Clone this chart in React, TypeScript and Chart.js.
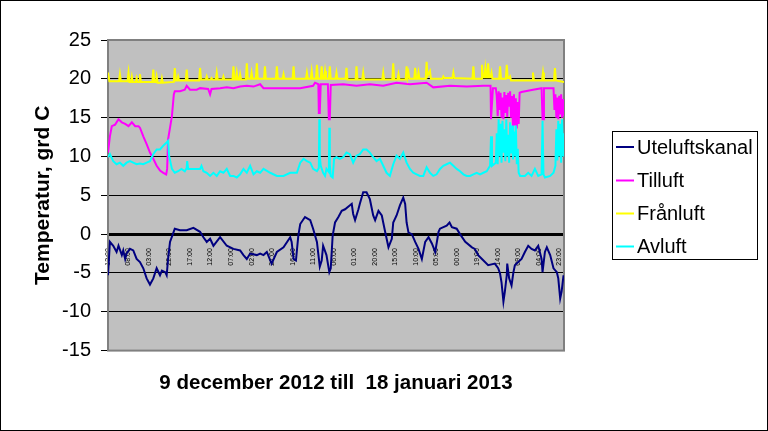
import React, { useEffect, useRef } from 'react';
import { Chart, registerables } from 'chart.js';

Chart.register(...registerables);

const FONT = "'Liberation Sans', Arial, sans-serif";

// x axis: hours since 9 December 2012 00:00
const xTickHours = [13, 56, 99, 142, 185, 228, 271, 314, 357, 400, 443, 486, 529, 572, 615, 658, 701, 744, 787, 830, 873, 916, 959];
const xTickLabels = ['13:00', '08:00', '03:00', '22:00', '17:00', '12:00', '07:00', '02:00', '21:00', '16:00', '11:00', '06:00', '01:00', '20:00', '15:00', '10:00', '05:00', '00:00', '19:00', '14:00', '09:00', '04:00', '23:00'];
const xMin = 13;
const xMax = 969;
const yMin = -15;
const yMax = 25;
const yStep = 5;

const seriesNames = ['Uteluftskanal', 'Tilluft', 'Frånluft', 'Avluft'];
const seriesColors = ['#000080', '#FF00FF', '#FFFF00', '#00FFFF'];

const uteluftskanal = [
  [13, -5.3], [17, -1.0], [24, -1.5], [31, -2.3], [35, -1.5], [42, -2.7], [45, -2.1], [49, -3.2], [52, -2.5], [59, -1.9],
  [66, -2.1], [73, -3.2], [80, -3.6], [87, -4.4], [94, -5.7], [101, -6.5], [108, -5.7], [115, -4.4], [122, -5.3], [126, -4.7],
  [133, -4.9], [136, -5.3], [139, -3.2], [143, -1.0], [149, 0.0], [153, 0.7], [164, 0.5], [178, 0.5], [192, 0.8], [206, 0.3],
  [213, -0.4], [220, -1.0], [227, -0.6], [234, -1.5], [248, -0.4], [262, -1.5], [276, -1.9], [290, -2.1], [297, -2.7], [304, -3.2],
  [311, -2.5], [325, -2.7], [332, -2.5], [339, -2.7], [346, -2.3], [356, -3.8], [367, -2.3], [381, -1.7], [395, -0.4], [398, -1.0],
  [402, -3.2], [407, -3.4], [412, -0.2], [416, 1.3], [426, 2.2], [437, 1.8], [443, 0.7], [451, -1.0], [457, -4.2], [461, -3.4],
  [464, -1.5], [471, -2.7], [477, -4.9], [480, -4.4], [484, -0.2], [489, 1.5], [496, 2.2], [503, 3.0], [510, 3.2], [524, 3.9],
  [527, 2.6], [531, 1.8], [538, 3.2], [541, 3.9], [548, 5.4], [555, 5.4], [562, 4.5], [569, 2.4], [573, 1.8], [580, 3.0],
  [587, 2.4], [590, 1.5], [594, 0.3], [601, -1.7], [608, -0.6], [611, 1.5], [618, 2.4], [625, 3.7], [632, 4.7], [636, 3.9],
  [639, 1.5], [643, 0.2], [650, 0.0], [657, -1.0], [664, -1.9], [671, -3.2], [678, -1.0], [685, -0.4], [692, -1.2], [699, -2.3],
  [706, 0.3], [709, 0.7], [723, 1.1], [729, 1.5], [734, 0.9], [744, 0.7], [751, 0.0], [762, -1.0], [776, -1.7], [782, -1.9],
  [789, -2.7], [797, -3.2], [810, -4.0], [824, -3.8], [831, -4.4], [835, -5.1], [838, -6.2], [842, -8.7], [845, -7.4], [849, -5.3],
  [850, -3.8], [854, -5.7], [859, -6.6], [863, -4.9], [866, -4.0], [873, -3.6], [880, -3.2], [887, -2.3], [894, -1.5], [901, -1.9],
  [908, -2.1], [915, -1.5], [922, -3.2], [924, -4.9], [929, -2.3], [933, -1.7], [940, -2.7], [947, -4.4], [954, -4.9], [957, -5.7],
  [961, -8.3], [964, -7.4], [968, -5.3],
];

const tilluft = [
  [13, 10.5], [17, 12.6], [21, 13.9], [28, 14.1], [35, 14.8], [42, 14.4], [49, 14.2], [56, 13.9], [63, 14.4], [70, 13.9],
  [77, 13.9], [80, 13.7], [87, 12.6], [94, 11.6], [101, 10.5], [108, 9.7], [115, 8.8], [122, 8.2], [129, 7.9], [135, 7.7],
  [137, 8.4], [139, 12.2], [147, 15.2], [151, 18.0], [153, 18.4], [164, 18.4], [174, 18.6], [178, 19.1], [185, 18.6], [199, 18.6],
  [206, 18.8], [223, 18.7], [227, 18.0], [230, 18.7], [248, 18.8], [262, 18.9], [276, 18.8], [290, 19.0], [304, 19.1], [318, 19.0],
  [332, 19.3], [339, 18.8], [381, 18.8], [416, 18.8], [443, 19.1], [447, 19.5], [454, 19.3], [455, 15.6], [457, 15.6], [459, 19.3],
  [474, 19.3], [476, 14.8], [478, 14.8], [480, 19.2], [506, 19.3], [534, 19.1], [562, 19.3], [590, 19.1], [618, 19.5], [646, 19.3],
  [681, 19.5], [695, 18.9], [730, 19.1], [765, 19.0], [800, 19.1], [815, 19.1], [816, 14.8], [818, 14.8], [820, 18.8], [826, 18.8],
  [828, 17.8], [830, 15.2], [832, 18.4], [834, 16.0], [836, 18.2], [838, 15.0], [840, 17.6], [842, 14.8], [844, 18.3], [846, 15.6],
  [848, 17.9], [850, 15.1], [852, 18.2], [854, 16.4], [856, 18.4], [858, 15.0], [860, 17.8], [862, 13.8], [864, 18.0], [866, 14.0],
  [868, 17.5], [870, 13.6], [872, 17.0], [874, 14.2], [876, 18.2], [880, 18.3], [904, 18.6], [922, 18.8], [924, 14.8], [926, 14.8],
  [927, 18.8], [947, 18.8], [949, 16.0], [951, 18.0], [953, 15.0], [955, 17.6], [957, 14.8], [959, 17.8], [961, 15.4], [963, 18.0],
  [965, 15.0], [967, 17.4], [969, 15.2],
];

const franluft = [
  [13, 20.8], [16, 19.7], [36, 19.7], [38, 20.6], [40, 19.7], [54, 19.7], [56, 20.8], [58, 19.6], [61, 19.6], [63, 20.3],
  [65, 19.6], [71, 19.6], [73, 20.1], [75, 19.6], [78, 19.6], [80, 20.6], [82, 19.6], [106, 19.6], [108, 21.2], [110, 19.6],
  [113, 19.6], [115, 20.3], [117, 19.5], [124, 19.5], [126, 20.1], [128, 19.5], [151, 19.6], [153, 21.4], [155, 19.8], [158, 19.8],
  [160, 20.3], [162, 19.8], [176, 19.8], [178, 21.2], [180, 19.8], [204, 19.8], [206, 21.4], [208, 19.9], [218, 19.9], [220, 20.3],
  [222, 19.9], [228, 19.9], [230, 20.1], [232, 19.9], [239, 19.9], [241, 20.8], [243, 19.9], [253, 19.9], [255, 20.3], [257, 19.9],
  [274, 19.9], [276, 21.6], [278, 19.9], [281, 19.9], [283, 20.8], [285, 19.9], [288, 19.9], [290, 20.6], [292, 19.9], [302, 19.9],
  [304, 22.0], [306, 20.0], [312, 20.0], [314, 20.8], [316, 20.0], [323, 20.0], [325, 22.0], [327, 20.0], [340, 20.0], [342, 21.6],
  [344, 20.0], [365, 20.0], [367, 21.6], [369, 20.0], [379, 20.0], [381, 20.6], [383, 20.0], [400, 20.0], [402, 21.6], [404, 20.0],
  [428, 20.0], [430, 20.8], [432, 20.0], [438, 20.0], [440, 21.0], [442, 20.0], [449, 20.0], [451, 21.8], [453, 20.0], [459, 20.0],
  [461, 21.6], [463, 20.0], [466, 20.0], [468, 21.0], [470, 20.0], [476, 20.0], [478, 21.6], [480, 20.0], [490, 20.0], [492, 20.8],
  [494, 20.0], [511, 20.0], [513, 21.4], [515, 19.9], [532, 19.9], [534, 21.6], [536, 19.9], [546, 19.9], [548, 20.8], [550, 19.9],
  [588, 19.9], [590, 20.8], [592, 19.9], [609, 19.9], [611, 22.0], [613, 19.9], [620, 19.9], [622, 20.6], [624, 19.9], [637, 19.9],
  [639, 21.6], [641, 20.2], [643, 20.8], [645, 20.0], [655, 20.0], [657, 21.4], [659, 20.0], [662, 20.0], [664, 20.8], [666, 20.0],
  [679, 20.0], [681, 22.2], [683, 20.4], [688, 21.0], [690, 20.0], [714, 20.0], [716, 20.3], [718, 20.1], [735, 20.1], [737, 20.8],
  [739, 20.1], [777, 20.0], [779, 21.6], [781, 20.0], [795, 20.0], [797, 21.8], [799, 20.2], [802, 20.2], [804, 21.4], [806, 20.2],
  [808, 20.2], [810, 22.0], [812, 20.2], [815, 20.2], [817, 20.8], [819, 20.0], [833, 20.0], [835, 21.6], [837, 20.0], [847, 20.0],
  [849, 21.8], [851, 20.1], [854, 20.1], [856, 20.3], [858, 19.8], [902, 19.8], [904, 20.8], [906, 19.8], [923, 19.8], [925, 20.8],
  [927, 19.8], [948, 19.8], [950, 21.4], [952, 19.8], [969, 19.6],
];

const avluft = [
  [13, 9.9], [17, 10.3], [24, 9.4], [31, 9.0], [38, 9.2], [45, 8.8], [52, 9.2], [59, 9.4], [66, 9.2], [73, 9.0],
  [80, 9.1], [87, 9.0], [94, 9.2], [101, 9.4], [108, 10.3], [115, 10.9], [122, 10.9], [129, 11.4], [136, 11.8], [139, 12.0],
  [141, 10.1], [147, 8.4], [153, 7.9], [160, 8.1], [167, 8.4], [174, 8.1], [178, 8.5], [179, 9.4], [181, 8.4], [192, 8.4],
  [206, 8.4], [209, 8.8], [213, 8.1], [220, 7.9], [227, 7.5], [234, 7.9], [241, 7.5], [248, 8.1], [255, 7.9], [262, 8.4],
  [269, 7.5], [276, 7.5], [283, 7.3], [290, 7.7], [297, 8.4], [304, 7.9], [311, 8.8], [318, 7.7], [325, 8.1], [332, 7.9],
  [339, 8.4], [353, 7.9], [367, 7.5], [381, 7.5], [395, 7.9], [409, 7.9], [416, 9.2], [423, 9.7], [430, 9.4], [437, 9.2],
  [443, 8.4], [451, 8.1], [455, 8.5], [456, 14.8], [457, 10.0], [459, 8.8], [464, 7.9], [468, 7.5], [471, 8.4], [476, 8.0],
  [477, 13.7], [478, 9.0], [480, 7.5], [484, 7.3], [487, 9.7], [492, 9.9], [499, 9.7], [506, 9.9], [513, 10.5], [520, 10.3],
  [527, 9.2], [534, 10.1], [541, 10.3], [548, 10.9], [555, 10.9], [562, 10.5], [569, 9.9], [576, 9.4], [583, 9.7], [590, 8.8],
  [597, 7.9], [604, 7.5], [611, 9.0], [618, 10.1], [625, 9.7], [632, 10.5], [639, 9.2], [646, 8.4], [653, 7.9], [660, 7.7],
  [667, 7.5], [674, 7.5], [681, 8.6], [688, 7.9], [695, 7.5], [702, 7.7], [709, 8.4], [716, 8.8], [723, 9.0], [730, 9.2],
  [737, 8.8], [744, 8.4], [751, 8.1], [758, 7.7], [765, 7.5], [772, 7.5], [779, 7.7], [786, 7.9], [793, 7.7], [800, 7.9],
  [807, 8.1], [814, 8.8], [816, 12.6], [818, 8.8], [826, 9.2], [828, 13.0], [830, 9.0], [832, 14.8], [834, 10.0], [836, 14.2],
  [838, 9.2], [840, 14.6], [842, 10.5], [844, 13.5], [846, 9.4], [848, 14.8], [850, 10.0], [852, 12.8], [854, 9.2], [856, 14.4],
  [858, 10.4], [860, 14.0], [862, 9.6], [864, 13.2], [866, 10.0], [868, 14.0], [870, 9.0], [872, 11.0], [874, 7.9], [877, 7.5],
  [887, 7.5], [894, 7.9], [901, 7.5], [908, 8.4], [915, 7.5], [922, 7.7], [924, 14.6], [926, 7.7], [929, 7.3], [940, 7.5],
  [947, 7.9], [951, 8.8], [953, 13.5], [955, 9.5], [957, 14.6], [959, 10.0], [961, 14.2], [963, 9.2], [965, 14.8], [967, 10.0],
  [969, 13.0],
];

const seriesData = [uteluftskanal, tilluft, franluft, avluft];

const yTitle = 'Temperatur, grd C';
const xTitle = '9 december 2012 till  18 januari 2013';

const decorPlugin = {
  id: 'decor',
  beforeDraw(chart: any) {
    const { ctx, chartArea: a, width, height } = chart;
    ctx.save();
    ctx.fillStyle = '#FFFFFF';
    ctx.fillRect(0, 0, width, height);
    ctx.fillStyle = '#C0C0C0';
    ctx.fillRect(a.left, a.top, a.right - a.left, a.bottom - a.top);
    ctx.restore();
  },
  beforeDatasetsDraw(chart: any) {
    const { ctx, chartArea: a } = chart;
    ctx.save();
    ctx.strokeStyle = '#808080';
    ctx.lineWidth = 2;
    ctx.strokeRect(a.left, a.top, a.right - a.left, a.bottom - a.top);
    ctx.restore();
  },
  afterDraw(chart: any) {
    const { ctx, width, height } = chart;
    ctx.save();
    ctx.strokeStyle = '#000000';
    ctx.lineWidth = 1;
    ctx.strokeRect(0.5, 0.5, width - 1, height - 1);
    // legend
    const bx = 612, by = 131, bw = 145, bh = 128;
    ctx.fillStyle = '#FFFFFF';
    ctx.fillRect(bx, by, bw, bh);
    ctx.strokeRect(bx + 0.5, by + 0.5, bw, bh);
    const rowY = [147, 180.5, 213.5, 246.5];
    ctx.font = `20px ${FONT}`;
    ctx.textBaseline = 'middle';
    ctx.textAlign = 'left';
    chart.data.datasets.forEach((ds: any, i: number) => {
      const y = rowY[i];
      ctx.strokeStyle = ds.borderColor;
      ctx.lineWidth = 2;
      ctx.beginPath();
      ctx.moveTo(616, y);
      ctx.lineTo(634, y);
      ctx.stroke();
      ctx.fillStyle = '#000000';
      ctx.fillText(ds.label, 637, y + 1);
    });
    ctx.restore();
  },
};

export default function App() {
  const ref = useRef<HTMLCanvasElement | null>(null);
  useEffect(() => {
    if (!ref.current) return;
    const datasets = seriesData.map((s, i) => ({
      label: seriesNames[i],
      data: s.map(([x, y]) => ({ x, y })),
      borderColor: seriesColors[i],
      backgroundColor: seriesColors[i],
      borderWidth: 2,
      pointRadius: 0,
      tension: 0,
      fill: false,
      order: seriesData.length - i,
    }));
    const chart = new Chart(ref.current, {
      type: 'line',
      data: { datasets },
      plugins: [decorPlugin],
      options: {
        animation: false,
        responsive: false,
        events: [],
        layout: { padding: { left: 0, top: 40, right: 204, bottom: 0 } },
        plugins: {
          legend: { display: false },
          tooltip: { enabled: false },
          title: {
            display: true,
            position: 'bottom',
            fullSize: false,
            text: xTitle,
            color: '#000000',
            font: { family: FONT, size: 20.5, weight: 'bold' },
            padding: { top: 20, bottom: 35.8 },
          },
        },
        scales: {
          x: {
            type: 'linear',
            min: xMin,
            max: xMax,
            position: { y: 0 },
            grid: { display: false },
            border: { display: true, color: '#000000', width: 3 },
            ticks: {
              autoSkip: false,
              minRotation: 90,
              maxRotation: 90,
              padding: 6,
              color: '#000000',
              font: { family: FONT, size: 7 },
              callback: (_v: any, i: number) => xTickLabels[i],
            },
            afterBuildTicks: (scale: any) => {
              scale.ticks = xTickHours.map((v) => ({ value: v }));
            },
            afterFit: (scale: any) => {
              scale.height = 0;
              scale.paddingLeft = 0;
              scale.paddingRight = 0;
            },
          },
          y: {
            type: 'linear',
            min: yMin,
            max: yMax,
            grid: { color: '#000000', lineWidth: 1, tickLength: 7, drawTicks: true },
            border: { display: false },
            ticks: {
              stepSize: yStep,
              padding: 10,
              color: '#000000',
              font: { family: FONT, size: 20 },
            },
            title: {
              display: true,
              text: yTitle,
              color: '#000000',
              font: { family: FONT, size: 21, weight: 'bold' },
              padding: { top: 31, bottom: 0 },
            },
            afterFit: (scale: any) => {
              scale.width = 108;
            },
          },
        },
      } as any,
    });
    return () => chart.destroy();
  }, []);
  return (
    <div style={{ position: 'absolute', left: 0, top: 0, width: 768, height: 431 }}>
      <canvas ref={ref} width={768} height={431} style={{ display: 'block', width: 768, height: 431 }} />
    </div>
  );
}
